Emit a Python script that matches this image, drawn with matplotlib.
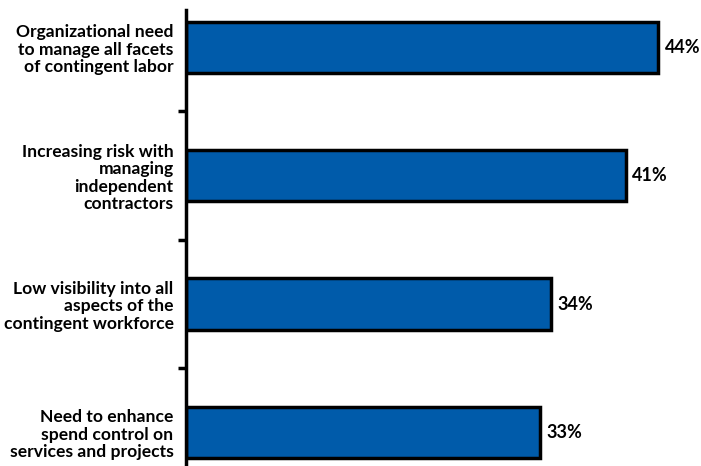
import numpy as np
import matplotlib.pyplot as plt

categories = [
    "Organizational need\nto manage all facets\nof contingent labor",
    "Increasing risk with\nmanaging\nindependent\ncontractors",
    "Low visibility into all\naspects of the\ncontingent workforce",
    "Need to enhance\nspend control on\nservices and projects",
]
values = [44, 41, 34, 33]

plt.rcParams['font.family'] = ['Lato', 'DejaVu Sans']

fig = plt.figure(figsize=(7.01, 4.66), dpi=100)
ax = fig.add_axes([186 / 701, 0, 1 - 186 / 701, 1 - 10 / 466])

y = np.arange(len(categories))
ax.barh(y, values, height=0.4, color='#005BAA', edgecolor='black', linewidth=2.5)

for yi, v in zip(y, values):
    ax.text(v + 0.6, yi, f"{v}%", va='center', ha='left',
            fontsize=13, fontweight='bold')

ax.set_xlim(0, 48)
ax.set_ylim(3.26, -0.29)

for s in ['top', 'right', 'bottom']:
    ax.spines[s].set_visible(False)
ax.spines['left'].set_linewidth(2.5)

ax.set_xticks([])
ax.set_yticks([0.5, 1.5, 2.5])
ax.set_yticklabels([])
ax.tick_params(axis='y', which='major', length=6, width=2.5)
ax.set_yticks(y, minor=True)
ax.set_yticklabels(categories, minor=True, fontsize=12.6, fontweight='bold',
                   linespacing=1.12)
ax.tick_params(axis='y', which='minor', length=0, pad=9)

fig.savefig("out.png", dpi=100)
